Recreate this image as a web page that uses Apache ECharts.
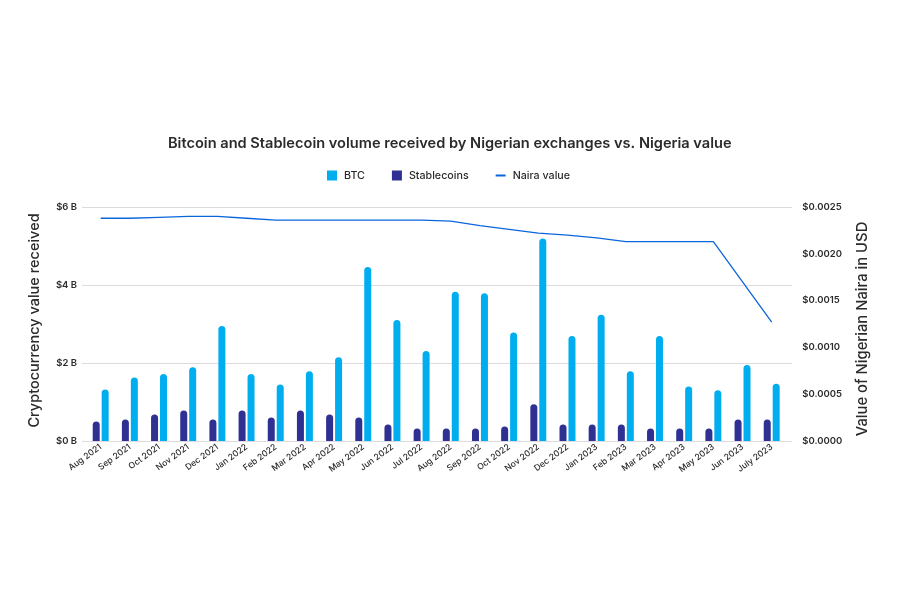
<!DOCTYPE html>
<html><head><meta charset="utf-8">
<style>html,body{margin:0;background:#fff}#c{width:900px;height:600px}</style>
<script src="https://cdn.jsdelivr.net/npm/echarts@6/dist/echarts.min.js"></script>
</head><body><div id="c"></div>
<script>
const categories = ['Aug 2021','Sep 2021','Oct 2021','Nov 2021','Dec 2021','Jan 2022','Feb 2022','Mar 2022','Apr 2022','May 2022','Jun 2022','Jul 2022','Aug 2022','Sep 2022','Oct 2022','Nov 2022','Dec 2022','Jan 2023','Feb 2023','Mar 2023','Apr 2023','May 2023','Jun 2023','July 2023'];
const btc = [1.32,1.63,1.72,1.89,2.95,1.72,1.45,1.79,2.15,4.46,3.10,2.31,3.83,3.79,2.78,5.19,2.69,3.24,1.79,2.69,1.40,1.30,1.95,1.47];
const stablecoins = [0.50,0.55,0.68,0.78,0.55,0.78,0.60,0.78,0.68,0.60,0.42,0.32,0.32,0.32,0.37,0.94,0.42,0.42,0.42,0.32,0.32,0.32,0.55,0.55];
const naira = [0.00238,0.00238,0.00239,0.00240,0.00240,0.00238,0.00236,0.00236,0.00236,0.00236,0.00236,0.00236,0.00235,0.00230,0.00226,0.00222,0.00220,0.00217,0.00213,0.00213,0.00213,0.00213,0.00170,0.00127];
const FONT = 'Inter, "Noto Sans", sans-serif';
const TXT = '#2b2b2b';
const chart = echarts.init(document.getElementById('c'), null, {renderer:'canvas'});
chart.setOption({
  backgroundColor:'#fff',
  animation:false,
  textStyle:{fontFamily:FONT,color:TXT},
  title:{text:'Bitcoin and Stablecoin volume received by Nigerian exchanges vs. Nigeria value',left:163,top:131,
    textStyle:{fontFamily:FONT,fontSize:14.6,fontWeight:600,color:TXT}},
  legend:{top:165,left:322,itemWidth:10,itemHeight:10,itemGap:27,
    textStyle:{fontFamily:FONT,fontSize:10.7,fontWeight:500,color:TXT,padding:[0,0,0,2]},
    lineStyle:{width:3},
    data:[{name:'BTC',icon:'rect'},{name:'Stablecoins',icon:'rect'},{name:'Naira value',icon:'path://M0 4H10V6H0Z'}]},
  grid:[
    {left:82,right:108,top:207,bottom:159},
    {left:86.1,right:113.7,top:207,bottom:159}
  ],
  xAxis:[
    {gridIndex:0,type:'category',data:categories,axisLine:{show:false},axisTick:{show:false},axisLabel:{show:false}},
    {gridIndex:1,type:'category',data:categories,axisLine:{show:false},axisTick:{show:false},
     axisLabel:{interval:0,rotate:36,fontSize:8.6,fontWeight:500,fontFamily:FONT,color:TXT,margin:5}}
  ],
  yAxis:[
    {gridIndex:0,type:'value',min:0,max:6,interval:2,axisLabel:{show:false},axisLine:{show:false},axisTick:{show:false},
     splitLine:{lineStyle:{color:'#dddbe0',width:1}}},
    {gridIndex:1,type:'value',min:0,max:6,interval:2,position:'left',
     name:'Cryptocurrency value received',nameLocation:'middle',nameGap:44,nameRotate:90,
     nameTextStyle:{fontFamily:FONT,fontSize:14.5,fontWeight:500,color:TXT,padding:[0,0,0,7]},
     axisLabel:{formatter:v=>'$'+v+' B',fontSize:9.5,fontWeight:600,fontFamily:FONT,color:TXT,margin:9},
     axisLine:{show:false},axisTick:{show:false},splitLine:{show:false}},
    {gridIndex:1,type:'value',min:0,max:0.0025,interval:0.0005,position:'right',
     name:'Value of Nigerian Naira in USD',nameLocation:'middle',nameGap:69,nameRotate:90,
     nameTextStyle:{fontFamily:FONT,fontSize:14.8,fontWeight:500,color:TXT,padding:[0,10,0,0]},
     axisLabel:{formatter:v=>'$'+v.toFixed(4),fontSize:9.5,fontWeight:600,fontFamily:FONT,color:TXT,margin:16},
     axisLine:{show:false},axisTick:{show:false},splitLine:{show:false}}
  ],
  series:[
    {name:'Stablecoins',type:'bar',xAxisIndex:1,yAxisIndex:1,data:stablecoins,barWidth:7,barGap:'28%',
     itemStyle:{color:'#2E3192',borderRadius:[3.5,3.5,0,0]}},
    {name:'BTC',type:'bar',xAxisIndex:1,yAxisIndex:1,data:btc,barWidth:7,barGap:'28%',
     itemStyle:{color:'#00AEEF',borderRadius:[3.5,3.5,0,0]}},
    {name:'Naira value',type:'line',xAxisIndex:1,yAxisIndex:2,data:naira,symbol:'none',showSymbol:false,symbolKeepAspect:true,
     lineStyle:{color:'#0B66DB',width:1.3},itemStyle:{color:'#0B66DB'}}
  ]
});
</script></body></html>
